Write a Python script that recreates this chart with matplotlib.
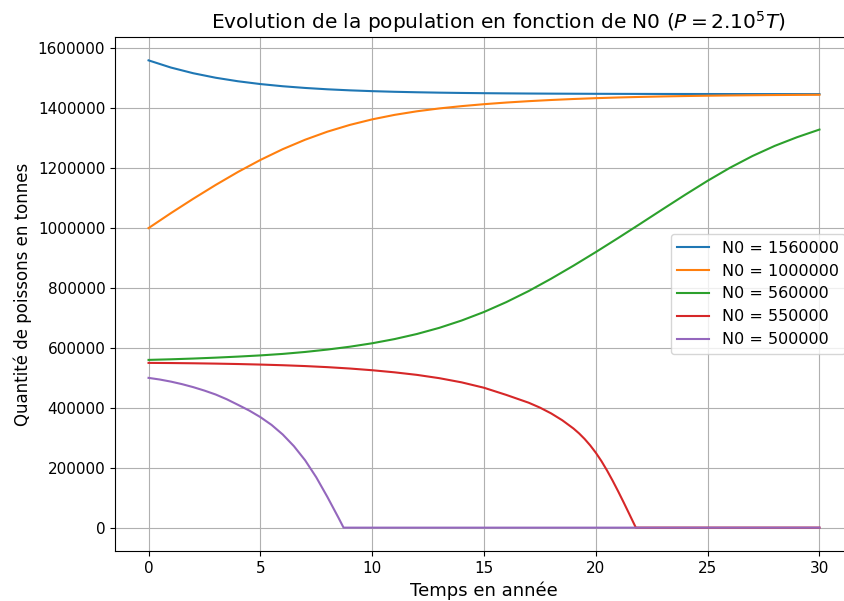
import matplotlib.pyplot as plt

# temps (années) et population
t_years = list(range(31))

n_1560000 = [1560000, 1536000, 1517000, 1502000, 1490200, 1480900, 1473600, 1467900,
             1463400, 1459900, 1457200, 1455100, 1453500, 1452200, 1451200, 1450400,
             1449800, 1449300, 1448900, 1448600, 1448350, 1448150, 1448000, 1447850,
             1447750, 1447650, 1447550, 1447500, 1447450, 1447400, 1447350]

n_1000000 = [1000000, 1050000, 1098000, 1144000, 1187500, 1227500, 1263500, 1295000,
             1322000, 1344500, 1363000, 1378000, 1390000, 1399500, 1407200, 1413700,
             1419200, 1423800, 1427700, 1431000, 1433800, 1436100, 1438000, 1439600,
             1440900, 1442000, 1442900, 1443600, 1444200, 1444700, 1445100]

n_560000 = [560000, 562000, 564500, 567500, 571000, 575000, 580000, 586500,
            594500, 604000, 615500, 629500, 646500, 667000, 691500, 720000,
            753000, 790000, 831000, 874500, 920000, 967000, 1015000, 1063500,
            1111500, 1158000, 1201500, 1240500, 1274500, 1303500, 1329000]

t_550000 = [0, 1, 2, 3, 4, 5, 6, 7, 8, 9, 10, 11, 12, 13, 14, 15, 16, 17, 17.5,
            18, 18.5, 19, 19.25, 19.5, 19.75, 20, 20.25, 20.5, 20.75, 21, 21.25,
            21.5, 21.79, 25, 30]
n_550000 = [550000, 549500, 548700, 547600, 546200, 544400, 542200, 539400, 535800,
            531200, 525500, 518500, 510000, 499000, 485000, 467000, 443000, 417000,
            400750, 381500, 358500, 331000, 314750, 296000, 274500, 250000, 222250,
            191000, 157000, 121000, 83500, 45000, 0, 0, 0]

t_500000 = [0, 0.5, 1, 1.5, 2, 2.5, 3, 3.5, 4, 4.5, 5, 5.5, 6, 6.5, 7, 7.5, 8,
            8.5, 8.72, 15, 30]
n_500000 = [500000, 494500, 487500, 479000, 469000, 457500, 444500, 428500, 410000,
            391000, 369000, 343000, 311000, 272000, 225000, 168000, 102000, 32000,
            0, 0, 0]

series = [
    (t_years, n_1560000, "N0 = 1560000"),
    (t_years, n_1000000, "N0 = 1000000"),
    (t_years, n_560000, "N0 = 560000"),
    (t_550000, n_550000, "N0 = 550000"),
    (t_500000, n_500000, "N0 = 500000"),
]

fig = plt.figure(figsize=(8.45, 6.01), dpi=100)
ax = fig.add_axes([115 / 845, 1 - 551 / 601, 738 / 845, 514 / 601])

for t, n, label in series:
    ax.plot(t, n, label=label, linewidth=1.5)

ax.grid(True)
ax.set_title("Evolution de la population en fonction de N0 ($P=2.10^5T$)",
             fontsize=14.5, x=0.52)
ax.set_xlabel("Temps en année", fontsize=13)
ax.set_ylabel("Quantité de poissons en tonnes", fontsize=12)
ax.tick_params(axis="both", labelsize=11)
ax.ticklabel_format(axis="y", style="plain", useOffset=False)
ax.legend(loc="center right", fontsize=11.5)

fig.savefig("out.png", dpi=100)
